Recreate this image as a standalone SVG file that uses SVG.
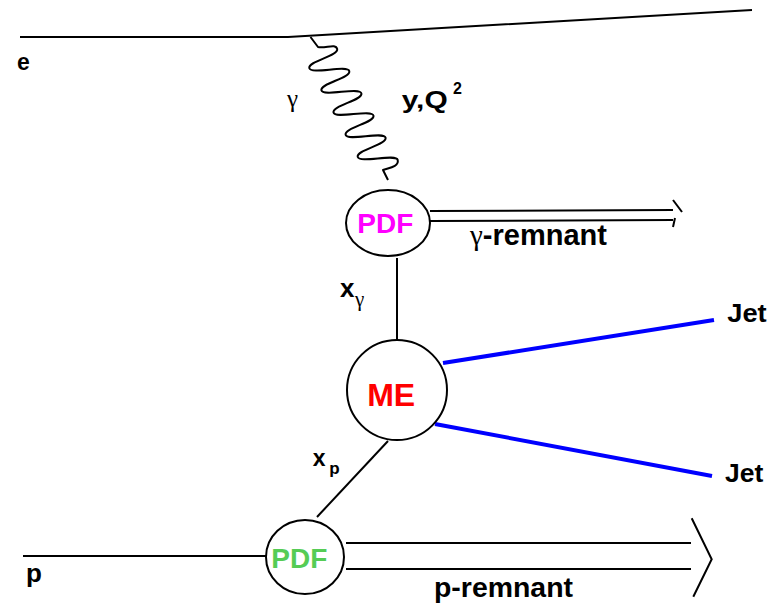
<svg xmlns="http://www.w3.org/2000/svg" width="776" height="606" viewBox="0 0 776 606">
<style>
.ln{fill:none;stroke:#000;stroke-width:2;stroke-linecap:butt}
.jet{fill:none;stroke:#0000FF;stroke-width:4}
.node{fill:#fff;stroke:#000;stroke-width:2}
.b{font-family:"Liberation Sans",Arial,sans-serif;font-weight:bold;fill:#000}
.g{font-family:"Liberation Serif","Times New Roman",serif;font-weight:normal;fill:#000}
</style>
<rect width="776" height="606" fill="#fff"/>
<g id="connectors">
  <polyline class="ln" points="20,37 288,37 752,10"/>
  <path class="ln" stroke-linejoin="round" d="M310.5,37 L318,47 C326,48.5 335.7,43 337.2,49 C338.7,56 307.8,61.1 309.3,68.1 C310.8,75.1 347.8,64.2 349.3,71.2 C350.8,78.2 319.9,83.3 321.4,90.3 C322.9,97.3 359.9,86.4 361.4,93.4 C362.9,100.4 332,105.5 333.5,112.5 C335,119.5 372,108.6 373.5,115.6 C375,122.6 344.1,127.7 345.6,134.7 C347.1,141.7 384.1,130.8 385.6,137.8 C387.1,144.8 356.2,149.9 357.7,156.9 C359.2,163.9 396.2,153 397.7,160 C399.2,167 388,168 383,170 L388,180"/>
  <line class="ln" x1="430" y1="211" x2="673" y2="210"/>
  <line class="ln" x1="430" y1="221" x2="673" y2="220"/>
  <line class="ln" x1="673" y1="200" x2="682" y2="212"/>
  <line class="ln" x1="675" y1="218" x2="673" y2="227"/>
  <line class="ln" x1="397" y1="258" x2="397" y2="340"/>
  <line class="ln" x1="388" y1="441" x2="317" y2="517"/>
  <line class="jet" x1="443" y1="363" x2="714" y2="320"/>
  <line class="jet" x1="435" y1="424" x2="712" y2="476"/>
  <line class="ln" x1="23" y1="556" x2="266" y2="556"/>
  <line class="ln" x1="346" y1="543" x2="691" y2="543"/>
  <line class="ln" x1="346" y1="569" x2="691" y2="569"/>
  <polyline class="ln" points="691.7,518.3 711.7,559.3 693.3,596.7"/>
</g>
<g id="pdf-gamma">
  <ellipse class="node" cx="388" cy="223" rx="42" ry="33"/>
  <text class="b" x="385.3" y="233.3" font-size="28" style="fill:#FF00FF" text-anchor="middle">PDF</text>
</g>
<g id="me">
  <circle class="node" cx="397" cy="390" r="50"/>
  <text class="b" x="391.2" y="406" font-size="32" style="fill:#FF0000" text-anchor="middle">ME</text>
</g>
<g id="pdf-p">
  <ellipse class="node" cx="305" cy="557" rx="39" ry="37"/>
  <text class="b" x="299.3" y="568.3" font-size="28" style="fill:#55CC55" text-anchor="middle">PDF</text>
</g>
<g id="labels">
  <text class="b" x="17" y="70" font-size="23">e</text>
  <text class="g" x="287" y="107" font-size="25">γ</text>
  <text class="b" x="401.7" y="108.3" font-size="24" textLength="46" lengthAdjust="spacingAndGlyphs">y,Q</text>
  <text class="b" x="453" y="94" font-size="16">2</text>
  <text x="470" y="245" font-size="29"><tspan class="g">γ</tspan><tspan class="b">-remnant</tspan></text>
  <text class="b" x="340" y="297" font-size="26">x</text>
  <text class="g" x="355" y="306" font-size="21">γ</text>
  <text class="b" x="312.7" y="465.7" font-size="23">x</text>
  <text class="b" x="329.3" y="474" font-size="17">p</text>
  <text class="b" x="727.3" y="321.7" font-size="26" textLength="39.4" lengthAdjust="spacingAndGlyphs">Jet</text>
  <text class="b" x="725" y="482.3" font-size="26" textLength="38.3" lengthAdjust="spacingAndGlyphs">Jet</text>
  <text class="b" x="26" y="582" font-size="26">p</text>
  <text class="b" x="434" y="596.7" font-size="28" textLength="139" lengthAdjust="spacingAndGlyphs">p-remnant</text>
</g>
</svg>
